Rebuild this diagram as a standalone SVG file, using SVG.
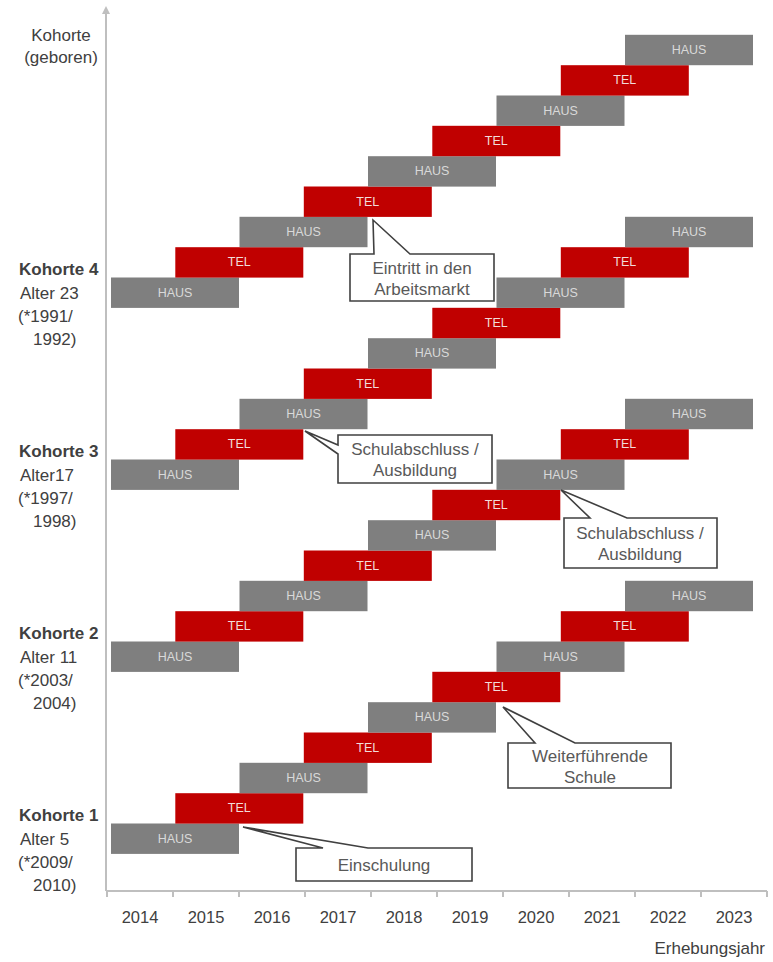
<svg xmlns="http://www.w3.org/2000/svg" width="773" height="962" viewBox="0 0 773 962">
<style>
text{font-family:"Liberation Sans",Arial,sans-serif}
.haus rect{fill:#7f7f7f}
.tel rect{fill:#c00000}
.haus text{fill:#d9d9d9;font-size:12.5px;text-anchor:middle;dominant-baseline:central}
.tel text{fill:#f2dcdb;font-size:12.5px;text-anchor:middle;dominant-baseline:central}
.lbl{fill:#404040;font-size:17px}
.b{font-weight:bold}
.yr{fill:#404040;font-size:16.5px;text-anchor:middle}
.axis{stroke:#bfbfbf;stroke-width:2;fill:none}
.co path{fill:#fff;stroke:#404040;stroke-width:1.6;stroke-linejoin:miter}
.co text{fill:#595959;font-size:17px;text-anchor:middle}
</style>
<defs>
<marker id="arr" viewBox="0 0 10 10" refX="5" refY="5" markerWidth="4" markerHeight="4" orient="auto">
<path d="M0,0 L10,5 L0,10 z" fill="#bfbfbf"/>
</marker>
</defs>

<g id="axes">
<line class="axis" x1="106" y1="891" x2="106" y2="10" marker-end="url(#arr)"/>
<line class="axis" x1="106" y1="891" x2="767" y2="891"/>
<path class="axis" d="M107,891v6M173,891v6M239,891v6M305,891v6M371,891v6M437,891v6M503,891v6M569,891v6M635,891v6M701,891v6M767,891v6"/>
<text class="yr" x="140" y="923">2014</text>
<text class="yr" x="206" y="923">2015</text>
<text class="yr" x="272" y="923">2016</text>
<text class="yr" x="338" y="923">2017</text>
<text class="yr" x="404" y="923">2018</text>
<text class="yr" x="470" y="923">2019</text>
<text class="yr" x="536" y="923">2020</text>
<text class="yr" x="602" y="923">2021</text>
<text class="yr" x="668" y="923">2022</text>
<text class="yr" x="734" y="923">2023</text>
<text class="lbl" x="765" y="954" text-anchor="end" font-size="16">Erhebungsjahr</text>
</g>

<g id="ylabels">
<text class="lbl" x="61" y="41" text-anchor="middle">Kohorte</text>
<text class="lbl" x="61" y="63" text-anchor="middle">(geboren)</text>
<g id="lbl-k4">
<text class="lbl b" x="19" y="275">Kohorte 4</text>
<text class="lbl" x="20" y="299">Alter 23</text>
<text class="lbl" x="18" y="322">(*1991/</text>
<text class="lbl" x="33" y="345">1992)</text>
</g>
<g id="lbl-k3">
<text class="lbl b" x="19" y="457">Kohorte 3</text>
<text class="lbl" x="20" y="481">Alter17</text>
<text class="lbl" x="18" y="504">(*1997/</text>
<text class="lbl" x="33" y="527">1998)</text>
</g>
<g id="lbl-k2">
<text class="lbl b" x="19" y="639">Kohorte 2</text>
<text class="lbl" x="20" y="663">Alter 11</text>
<text class="lbl" x="18" y="686">(*2003/</text>
<text class="lbl" x="33" y="709">2004)</text>
</g>
<g id="lbl-k1">
<text class="lbl b" x="19" y="821">Kohorte 1</text>
<text class="lbl" x="20" y="845">Alter 5</text>
<text class="lbl" x="18" y="868">(*2009/</text>
<text class="lbl" x="33" y="891">2010)</text>
</g>
</g>

<g id="kohorte1">
<g id="k1-b0" class="haus"><rect x="111" y="823.5" width="128" height="30.4"/><text x="175" y="838.7">HAUS</text></g>
<g id="k1-b1" class="tel"><rect x="175.3" y="793.2" width="128" height="30.4"/><text x="239.3" y="808.4">TEL</text></g>
<g id="k1-b2" class="haus"><rect x="239.5" y="762.8" width="128" height="30.4"/><text x="303.5" y="778">HAUS</text></g>
<g id="k1-b3" class="tel"><rect x="303.8" y="732.5" width="128" height="30.4"/><text x="367.8" y="747.7">TEL</text></g>
<g id="k1-b4" class="haus"><rect x="368" y="702.2" width="128" height="30.4"/><text x="432" y="717.4">HAUS</text></g>
<g id="k1-b5" class="tel"><rect x="432.3" y="671.8" width="128" height="30.4"/><text x="496.3" y="687">TEL</text></g>
<g id="k1-b6" class="haus"><rect x="496.5" y="641.5" width="128" height="30.4"/><text x="560.5" y="656.7">HAUS</text></g>
<g id="k1-b7" class="tel"><rect x="560.8" y="611.2" width="128" height="30.4"/><text x="624.8" y="626.4">TEL</text></g>
<g id="k1-b8" class="haus"><rect x="625" y="580.8" width="128" height="30.4"/><text x="689" y="596">HAUS</text></g>
</g>

<g id="kohorte2">
<g id="k2-b0" class="haus"><rect x="111" y="641.5" width="128" height="30.4"/><text x="175" y="656.7">HAUS</text></g>
<g id="k2-b1" class="tel"><rect x="175.3" y="611.2" width="128" height="30.4"/><text x="239.3" y="626.4">TEL</text></g>
<g id="k2-b2" class="haus"><rect x="239.5" y="580.8" width="128" height="30.4"/><text x="303.5" y="596">HAUS</text></g>
<g id="k2-b3" class="tel"><rect x="303.8" y="550.5" width="128" height="30.4"/><text x="367.8" y="565.7">TEL</text></g>
<g id="k2-b4" class="haus"><rect x="368" y="520.2" width="128" height="30.4"/><text x="432" y="535.4">HAUS</text></g>
<g id="k2-b5" class="tel"><rect x="432.3" y="489.8" width="128" height="30.4"/><text x="496.3" y="505">TEL</text></g>
<g id="k2-b6" class="haus"><rect x="496.5" y="459.5" width="128" height="30.4"/><text x="560.5" y="474.7">HAUS</text></g>
<g id="k2-b7" class="tel"><rect x="560.8" y="429.2" width="128" height="30.4"/><text x="624.8" y="444.4">TEL</text></g>
<g id="k2-b8" class="haus"><rect x="625" y="398.8" width="128" height="30.4"/><text x="689" y="414">HAUS</text></g>
</g>

<g id="kohorte3">
<g id="k3-b0" class="haus"><rect x="111" y="459.5" width="128" height="30.4"/><text x="175" y="474.7">HAUS</text></g>
<g id="k3-b1" class="tel"><rect x="175.3" y="429.2" width="128" height="30.4"/><text x="239.3" y="444.4">TEL</text></g>
<g id="k3-b2" class="haus"><rect x="239.5" y="398.8" width="128" height="30.4"/><text x="303.5" y="414">HAUS</text></g>
<g id="k3-b3" class="tel"><rect x="303.8" y="368.5" width="128" height="30.4"/><text x="367.8" y="383.7">TEL</text></g>
<g id="k3-b4" class="haus"><rect x="368" y="338.2" width="128" height="30.4"/><text x="432" y="353.4">HAUS</text></g>
<g id="k3-b5" class="tel"><rect x="432.3" y="307.8" width="128" height="30.4"/><text x="496.3" y="323">TEL</text></g>
<g id="k3-b6" class="haus"><rect x="496.5" y="277.5" width="128" height="30.4"/><text x="560.5" y="292.7">HAUS</text></g>
<g id="k3-b7" class="tel"><rect x="560.8" y="247.2" width="128" height="30.4"/><text x="624.8" y="262.4">TEL</text></g>
<g id="k3-b8" class="haus"><rect x="625" y="216.8" width="128" height="30.4"/><text x="689" y="232">HAUS</text></g>
</g>

<g id="kohorte4">
<g id="k4-b0" class="haus"><rect x="111" y="277.5" width="128" height="30.4"/><text x="175" y="292.7">HAUS</text></g>
<g id="k4-b1" class="tel"><rect x="175.3" y="247.2" width="128" height="30.4"/><text x="239.3" y="262.4">TEL</text></g>
<g id="k4-b2" class="haus"><rect x="239.5" y="216.8" width="128" height="30.4"/><text x="303.5" y="232">HAUS</text></g>
<g id="k4-b3" class="tel"><rect x="303.8" y="186.5" width="128" height="30.4"/><text x="367.8" y="201.7">TEL</text></g>
<g id="k4-b4" class="haus"><rect x="368" y="156.2" width="128" height="30.4"/><text x="432" y="171.4">HAUS</text></g>
<g id="k4-b5" class="tel"><rect x="432.3" y="125.8" width="128" height="30.4"/><text x="496.3" y="141">TEL</text></g>
<g id="k4-b6" class="haus"><rect x="496.5" y="95.5" width="128" height="30.4"/><text x="560.5" y="110.7">HAUS</text></g>
<g id="k4-b7" class="tel"><rect x="560.8" y="65.2" width="128" height="30.4"/><text x="624.8" y="80.4">TEL</text></g>
<g id="k4-b8" class="haus"><rect x="625" y="34.8" width="128" height="30.4"/><text x="689" y="50">HAUS</text></g>
</g>

<g id="callouts">
<g id="co-arbeitsmarkt" class="co">
<path d="M350,254 H374 L373,220 L410,254 H494 V301 H350 Z"/>
<text x="422" y="274">Eintritt in den</text>
<text x="422" y="295">Arbeitsmarkt</text>
</g>
<g id="co-schule-links" class="co">
<path d="M338,435 H492 V483 H338 V454 L305,431 L338,445 Z"/>
<text x="415" y="455">Schulabschluss /</text>
<text x="415" y="476">Ausbildung</text>
</g>
<g id="co-schule-rechts" class="co">
<path d="M564,518 H590 L561,490 L627,518 H717 V568 H564 Z"/>
<text x="640" y="539">Schulabschluss /</text>
<text x="640" y="560">Ausbildung</text>
</g>
<g id="co-weiterf" class="co">
<path d="M508,743 H535 L503,707 L575,743 H671 V788 H508 Z"/>
<text x="590" y="762">Weiterführende</text>
<text x="590" y="783">Schule</text>
</g>
<g id="co-einschulung" class="co">
<path d="M296,848 H323 L243,827 L368,848 H472 V881 H296 Z"/>
<text x="384" y="871">Einschulung</text>
</g>
</g>
</svg>
